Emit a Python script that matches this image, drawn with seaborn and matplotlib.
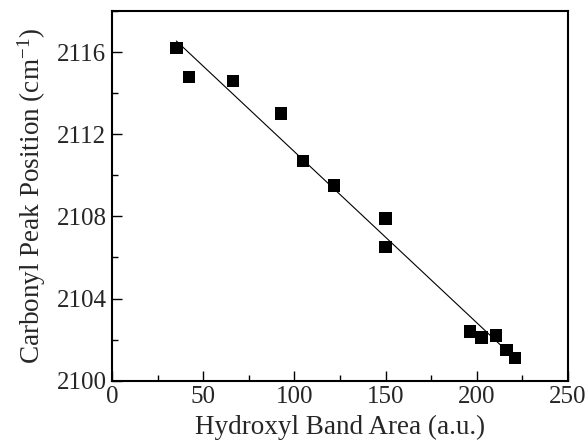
import matplotlib
matplotlib.use("Agg")
import matplotlib.pyplot as plt
import seaborn as sns
import pandas as pd
from matplotlib.ticker import MultipleLocator

hydroxyl_area = [35.3, 42.2, 66.2, 92.5, 104.7, 121.7, 150.0, 150.0, 196.3, 202.7, 210.5, 216.4, 221.1]
carbonyl_peak = [2116.2, 2114.8, 2114.6, 2113.0, 2110.7, 2109.5, 2107.9, 2106.5, 2102.4, 2102.1, 2102.2, 2101.5, 2101.1]
x_ticks = [0, 50, 100, 150, 200, 250]
y_ticks = [2100, 2104, 2108, 2112, 2116]

df = pd.DataFrame({"area": hydroxyl_area, "peak": carbonyl_peak})

sns.set_style("ticks")
plt.rcParams["font.family"] = ["Liberation Serif", "DejaVu Serif"]
plt.rcParams["mathtext.fontset"] = "custom"
plt.rcParams["mathtext.rm"] = "Liberation Serif"
plt.rcParams["mathtext.it"] = "Liberation Serif:italic"

fig = plt.figure(figsize=(5.87, 4.45), dpi=100)
ax = fig.add_axes([0.1908, 0.1445, 0.9676 - 0.1908, 0.9753 - 0.1445])

sns.regplot(data=df, x="area", y="peak", ax=ax, ci=None, truncate=True,
            marker="s",
            scatter_kws=dict(s=80, color="black", edgecolor="none", alpha=1.0, zorder=3),
            line_kws=dict(color="black", lw=0.8, zorder=2))

ax.set_xlim(0, 250)
ax.set_ylim(2100, 2118)
ax.set_xticks(x_ticks)
ax.set_yticks(y_ticks)
ax.xaxis.set_minor_locator(MultipleLocator(25))
ax.yaxis.set_minor_locator(MultipleLocator(2))
ax.tick_params(which="both", direction="in", top=False, right=False, labelsize=18, width=1.0, color="black")
ax.tick_params(which="major", length=7, pad=4)
ax.tick_params(which="minor", length=4)
for s in ax.spines.values():
    s.set_visible(True)
    s.set_linewidth(1.5)
    s.set_color("black")

ax.set_xlabel("Hydroxyl Band Area (a.u.)", fontsize=19.5, labelpad=5)
ax.set_ylabel(r"Carbonyl Peak Position (cm$^{\mathregular{-1}}$)", fontsize=19.5, labelpad=6)

fig.savefig("out.png", dpi=100)
